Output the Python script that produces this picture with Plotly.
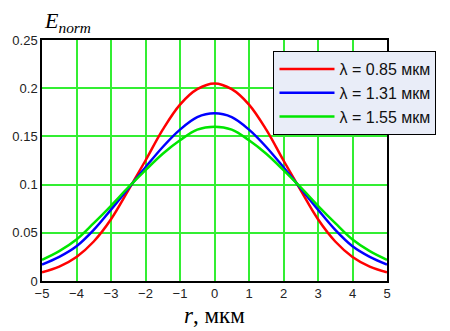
import plotly.graph_objects as go

r = [-5, -4.5, -4, -3.5, -3, -2.5, -2, -1.5, -1, -0.5, 0, 0.5, 1, 1.5, 2, 2.5, 3, 3.5, 4, 4.5, 5]
half_red = [0.205, 0.199, 0.183, 0.157, 0.125, 0.094, 0.064, 0.041, 0.025, 0.015, 0.009]
half_blue = [0.174, 0.170, 0.157, 0.139, 0.118, 0.096, 0.074, 0.053, 0.036, 0.025, 0.017]
half_green = [0.160, 0.157, 0.146, 0.132, 0.115, 0.097, 0.078, 0.060, 0.043, 0.031, 0.022]
e_red = half_red[::-1] + half_red[1:]
e_blue = half_blue[::-1] + half_blue[1:]
e_green = half_green[::-1] + half_green[1:]

names = ["λ = 0.85 мкм", "λ = 1.31 мкм", "λ = 1.55 мкм"]
colors = ["#ff0000", "#0000ff", "#00e600"]
series = [e_red, e_blue, e_green]

x_ticks = [-5, -4, -3, -2, -1, 0, 1, 2, 3, 4, 5]
y_ticks = [0, 0.05, 0.1, 0.15, 0.2, 0.25]
y_labels = ["0", "0.05", "0.1", "0.15", "0.2", "0.25"]

fig = go.Figure()
for nm, c, ys in zip(names, colors, series):
    fig.add_trace(go.Scatter(x=r, y=ys, mode="lines", name=nm,
                             line=dict(color=c, width=2.5, shape="spline")))

fig.update_layout(
    width=450, height=331,
    margin=dict(l=37, r=63, t=40, b=50),
    paper_bgcolor="white", plot_bgcolor="white",
    font=dict(family="Liberation Sans", size=13, color="#222"),
    legend=dict(x=0.671, y=0.954, xanchor="left", yanchor="top",
                bgcolor="#e9edf8", bordercolor="black", borderwidth=1,
                font=dict(size=16, color="#111"), tracegroupgap=0,
                itemwidth=55),
    showlegend=True,
)
fig.update_xaxes(range=[-5, 5], tickvals=x_ticks, showgrid=True,
                 gridcolor="#33ee33", gridwidth=1.5, zeroline=False,
                 showline=True, linecolor="black", linewidth=1.5, mirror=True,
                 tickfont=dict(size=13), ticks="")
fig.update_yaxes(range=[0, 0.25], tickvals=y_ticks, ticktext=y_labels, showgrid=True,
                 gridcolor="#33ee33", gridwidth=1.5, zeroline=False,
                 showline=True, linecolor="black", linewidth=1.5, mirror=True,
                 tickfont=dict(size=13), ticks="")

fig.add_annotation(text="<i>E<sub>norm</sub></i>", xref="paper", yref="paper",
                   x=0.0, y=1.0, xanchor="left", yanchor="bottom", yshift=2,
                   showarrow=False, font=dict(family="Liberation Serif", size=22, color="black"))
fig.add_annotation(text="<i>r</i>, мкм", xref="paper", yref="paper",
                   x=0.5, y=0, xanchor="center", yanchor="top", yshift=-20,
                   showarrow=False, font=dict(family="Liberation Serif", size=23, color="black"))

fig.write_html("out.html")
